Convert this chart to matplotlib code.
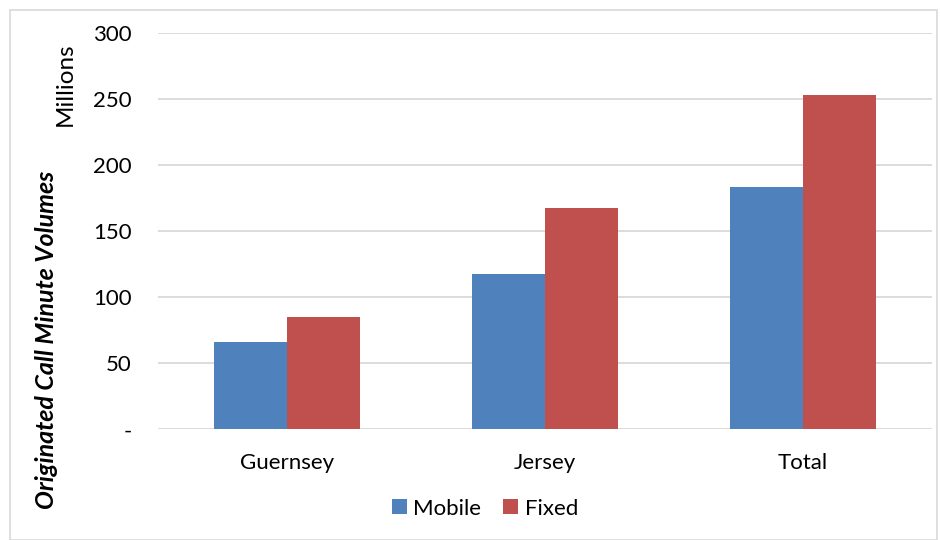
import matplotlib.pyplot as plt
import matplotlib.patches as mpatches
import numpy as np

# originated call minutes, millions
regions = ['Guernsey', 'Jersey', 'Total']
mobile = [66, 118, 184]
fixed = [85, 168, 253]
y_ticks = [0, 50, 100, 150, 200, 250, 300]
y_tick_labels = ['-', '50', '100', '150', '200', '250', '300']

plt.rcParams['font.family'] = ['Lato', 'DejaVu Sans']

fig = plt.figure(figsize=(9.4, 5.4), dpi=100)
ax = fig.add_axes([0.168, 0.205, 0.823, 0.733])

# light frame around the chart area
fig.patches.append(mpatches.Rectangle((10 / 940, 0), 927 / 940, 530 / 540, transform=fig.transFigure,
                                      fill=False, edgecolor='#D9D9D9', linewidth=1.2))

x = np.arange(len(regions))
w = 0.283
ax.bar(x - w / 2, mobile, w, color='#4F81BD', label='Mobile', zorder=3)
ax.bar(x + w / 2, fixed, w, color='#C0504D', label='Fixed', zorder=3)

ax.set_xlim(-0.5, 2.5)
ax.set_ylim(0, 300)
ax.set_yticks(y_ticks)
ax.set_yticklabels(y_tick_labels, fontsize=16)
ax.set_xticks(x)
ax.set_xticklabels(regions, fontsize=16)
ax.tick_params(axis='both', length=0, colors='#000000')
ax.tick_params(axis='y', pad=19)
ax.tick_params(axis='x', pad=17)
ax.yaxis.grid(True, color='#D9D9D9', linewidth=1.3, zorder=0)
for s in ax.spines.values():
    s.set_visible(False)

fig.text(0.05, 0.37, 'Originated Call Minute Volumes', rotation=90, ha='center', va='center',
         fontsize=18, fontweight='bold', fontstyle='italic')
fig.text(0.069, 0.845, 'Millions', rotation=90, ha='center', va='center', fontsize=17.5)

fig.legend(loc='center', bbox_to_anchor=(0.516, 0.058), ncol=2, frameon=False, fontsize=16,
           handlelength=0.65, handleheight=0.65, handletextpad=0.3, columnspacing=1.0)

fig.savefig('out.png', dpi=100)
